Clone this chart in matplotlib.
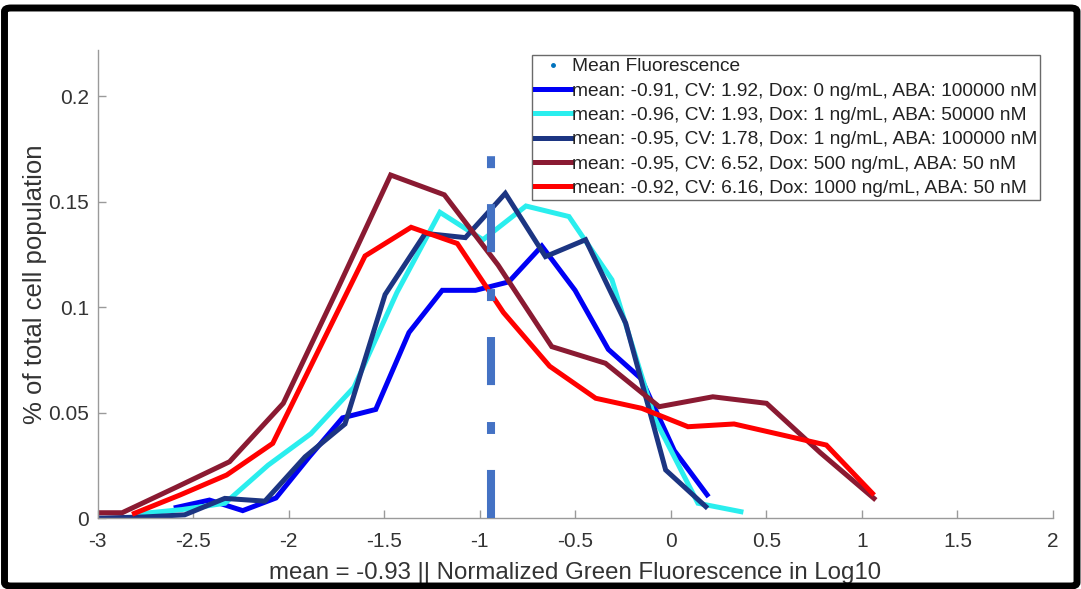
import numpy as np
import matplotlib
matplotlib.use("Agg")
import matplotlib.pyplot as plt
from matplotlib.patches import FancyBboxPatch

plt.rcParams["font.family"] = ["Liberation Sans", "DejaVu Sans"]
plt.rcParams["axes.unicode_minus"] = False
plt.rcParams["lines.scale_dashes"] = False

# histogram curves (x = bin centre in log10, y = fraction of cells)
x_dox0_aba100000 = [-2.588, -2.414, -2.240, -2.066, -1.892, -1.718, -1.544, -1.370, -1.196,
                    -1.022, -0.848, -0.675, -0.501, -0.327, -0.154, 0.018, 0.190]
y_dox0_aba100000 = [0.005, 0.0085, 0.0035, 0.0095, 0.029, 0.0475, 0.0515, 0.088, 0.108,
                    0.108, 0.112, 0.129, 0.108, 0.080, 0.066, 0.032, 0.011]

x_dox1_aba50000 = [-2.783, -2.558, -2.333, -2.108, -1.883, -1.658, -1.433, -1.208, -0.983,
                   -0.758, -0.533, -0.308, -0.083, 0.142, 0.367]
y_dox1_aba50000 = [0.002, 0.004, 0.007, 0.025, 0.040, 0.062, 0.107, 0.145, 0.132,
                   0.148, 0.143, 0.113, 0.047, 0.007, 0.003]

x_dox1_aba100000 = [-3.173, -2.963, -2.754, -2.544, -2.334, -2.124, -1.914, -1.705, -1.495,
                    -1.285, -1.075, -0.866, -0.656, -0.446, -0.236, -0.027, 0.183]
y_dox1_aba100000 = [0.0, 0.0, 0.0005, 0.0015, 0.0093, 0.008, 0.029, 0.0446, 0.106,
                    0.135, 0.133, 0.154, 0.124, 0.132, 0.0924, 0.0228, 0.0054]

x_dox500_aba50 = [-3.152, -2.871, -2.590, -2.309, -2.028, -1.747, -1.466, -1.185, -0.904,
                  -0.623, -0.342, -0.061, 0.220, 0.501, 0.782, 1.063]
y_dox500_aba50 = [0.0025, 0.0025, 0.0145, 0.0267, 0.0544, 0.108, 0.1627, 0.1533, 0.120,
                  0.0813, 0.0734, 0.0528, 0.0575, 0.0544, 0.031, 0.0093]

x_dox1000_aba50 = [-2.807, -2.566, -2.324, -2.083, -1.841, -1.600, -1.359, -1.117, -0.876,
                   -0.634, -0.393, -0.151, 0.090, 0.331, 0.573, 0.814, 1.055]
y_dox1000_aba50 = [0.0022, 0.011, 0.0204, 0.0354, 0.080, 0.1243, 0.1379, 0.1302, 0.0975,
                   0.072, 0.0568, 0.052, 0.0433, 0.0446, 0.0396, 0.0346, 0.0117]

series_labels = [
    "mean: -0.91, CV: 1.92, Dox: 0 ng/mL, ABA: 100000 nM",
    "mean: -0.96, CV: 1.93, Dox: 1 ng/mL, ABA: 50000 nM",
    "mean: -0.95, CV: 1.78, Dox: 1 ng/mL, ABA: 100000 nM",
    "mean: -0.95, CV: 6.52, Dox: 500 ng/mL, ABA: 50 nM",
    "mean: -0.92, CV: 6.16, Dox: 1000 ng/mL, ABA: 50 nM",
]
series_colors = ["#0000f5", "#2aeeee", "#1c3582", "#8a1a32", "#ff0000"]

mean_x = -0.94
mean_line_top = 0.172
mean_text = "-0.93"

x_ticks = [-3, -2.5, -2, -1.5, -1, -0.5, 0, 0.5, 1, 1.5, 2]
y_ticks = [0, 0.05, 0.1, 0.15, 0.2]


def plot_fluorescence():
    W, H = 1081, 589
    fig = plt.figure(figsize=(W / 100, H / 100), dpi=100)
    fig.patch.set_facecolor("white")

    # black picture frame (screenshot border)
    fig.add_artist(FancyBboxPatch((4.5 / W, 3 / H), (1077 - 4.5) / W, (581 - 3) / H,
                                  boxstyle="round,pad=0,rounding_size=0.006",
                                  transform=fig.transFigure, facecolor="none",
                                  edgecolor="black", linewidth=5, zorder=10))

    ax = fig.add_axes([97.5 / W, 1 - 518 / H, (1053 - 97.5) / W, (518 - 50) / H])
    ax.set_facecolor("white")

    ax.plot([mean_x], [0], linestyle="none", marker=".", markersize=5,
            color="#0072BD", label="Mean Fluorescence")

    xs = [x_dox0_aba100000, x_dox1_aba50000, x_dox1_aba100000, x_dox500_aba50, x_dox1000_aba50]
    ys = [y_dox0_aba100000, y_dox1_aba50000, y_dox1_aba100000, y_dox500_aba50, y_dox1000_aba50]
    for x, y, lab, col in zip(xs, ys, series_labels, series_colors):
        ax.plot(x, y, color=col, linewidth=3.6, label=lab, solid_joinstyle="miter")

    ax.plot([mean_x, mean_x], [0, mean_line_top], color="#4472C4", linewidth=5.8,
            linestyle=(0, (34.6, 25.9, 8.6, 26.6)), dash_capstyle="butt", zorder=5)

    ax.set_xlim(-3, 2)
    ax.set_ylim(0, 0.222)
    ax.set_xticks(x_ticks)
    ax.set_xticklabels([f"{t:g}" for t in x_ticks])
    ax.set_yticks(y_ticks)
    ax.set_yticklabels([f"{t:g}" for t in y_ticks])

    for side in ["top", "right"]:
        ax.spines[side].set_visible(False)
    for side in ["left", "bottom"]:
        ax.spines[side].set_color("#9a9a9a")
        ax.spines[side].set_linewidth(1.0)
    ax.tick_params(direction="in", length=6, width=1.0, color="#9a9a9a",
                   labelsize=15, labelcolor="#333333")
    ax.tick_params(axis="x", pad=10)
    ax.tick_params(axis="y", pad=6)

    ax.set_xlabel(f"mean = {mean_text} || Normalized Green Fluorescence in Log10",
                  fontsize=17.3, color="#333333", labelpad=8)
    ax.set_ylabel("% of total cell population", fontsize=18.5, color="#333333", labelpad=1)

    leg = ax.legend(loc="upper right", bbox_to_anchor=(1040 / W, 1 - 55 / H),
                    bbox_transform=fig.transFigure, borderaxespad=0, fontsize=13.8,
                    handlelength=1.85, handletextpad=0.05, labelspacing=0.36,
                    borderpad=0.15, fancybox=False, framealpha=1, edgecolor="#6a6a6a")
    leg.get_frame().set_linewidth(1.0)
    for t in leg.get_texts():
        t.set_color("#222222")

    return fig


fig = plot_fluorescence()
fig.savefig("out.png", dpi=100, facecolor=fig.get_facecolor())
